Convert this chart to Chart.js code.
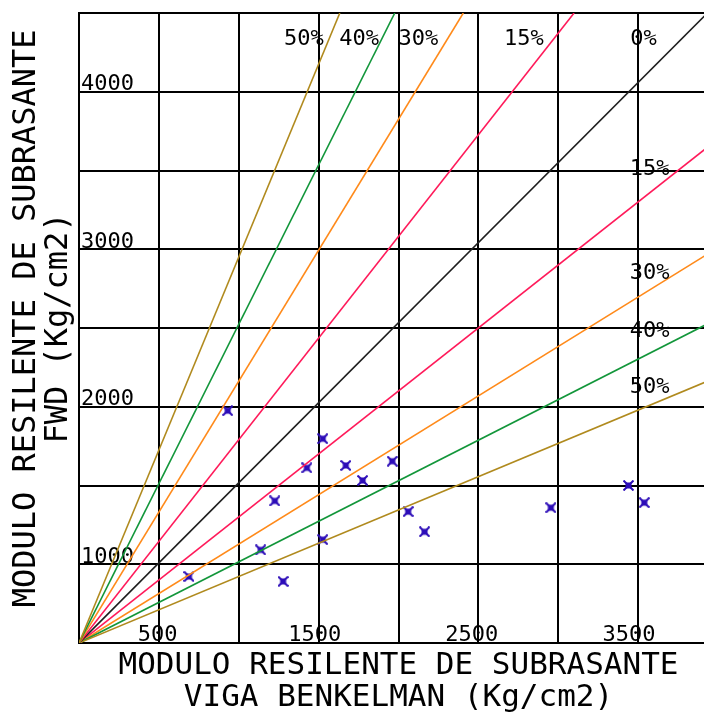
<!DOCTYPE html>
<html>
<head>
<meta charset="utf-8">
<script src="https://cdn.jsdelivr.net/npm/chart.js@4.4.1/dist/chart.umd.min.js"></script>
<style>
  html, body { margin: 0; padding: 0; background: #ffffff; overflow: hidden; }
  #wrap { width: 724px; height: 715px; }
</style>
</head>
<body>
<div id="wrap"><canvas id="c" width="724" height="715"></canvas></div>
<script>
// ---- data ----
const xTickLabels = [500, 1500, 2500, 3500];
const yTickLabels = [1000, 2000, 3000, 4000];

// measured points: Viga Benkelman (x) vs FWD (y), Kg/cm2
const vigaBenkelman = [946, 1551, 1450, 1698, 1994, 1246, 1805, 2095, 1551, 1156, 2199, 700, 1299, 3003, 3497, 3598];
const fwdValues     = [1975, 1797, 1612, 1627, 1654, 1402, 1532, 1334, 1156, 1091, 1206, 922, 891, 1359, 1500, 1391];

// reference lines, all starting at the common origin
const originX = 0, originY = 500;
const upperNames = ['50%', '40%', '30%', '15%', '0%'];
const upperEndX  = [1660, 2010, 2446, 3151, 4000];
const upperEndY  = [4500, 4500, 4500, 4500, 4500];
const lowerNames = ['50%', '40%', '30%', '15%'];
const lowerEndX  = [4067, 4067, 4067, 4067];
const lowerEndY  = [2190, 2560, 3010, 3700];

// annotation texts (data coordinates)
const topLabelText  = ['50%', '40%', '30%', '15%', '0%'];
const topLabelX     = [1305, 1656, 2033, 2705, 3508];
const topLabelY     = 4300;
const rightLabelText = ['15%', '30%', '40%', '50%'];
const rightLabelY    = [3473, 2812, 2440, 2087];
const rightLabelX    = 3505;

// ---- styles ----
const lineColors = { '50%': '#b08a1e', '40%': '#12963a', '30%': '#ff8a1a', '15%': '#ff1a5a', '0%': '#1e1e1e' };
const markerColor = '#2c0cb8';
const FONT = "'DejaVu Sans Mono', 'Liberation Mono', monospace";

function makeMarker() {
  const s = 11;
  const cv = document.createElement('canvas');
  cv.width = s; cv.height = s;
  const g = cv.getContext('2d');
  g.strokeStyle = markerColor;
  g.fillStyle = markerColor;
  g.lineWidth = 2;
  g.beginPath();
  g.moveTo(0.5, 0.5); g.lineTo(10.5, 10.5);
  g.moveTo(10.5, 0.5); g.lineTo(0.5, 10.5);
  g.stroke();
  g.fillRect(2.5, 2.5, 6, 6);
  return cv;
}

const datasets = [];
upperNames.forEach((n, i) => {
  datasets.push({
    type: 'line', label: n + ' sup',
    data: [{ x: originX, y: originY }, { x: upperEndX[i], y: upperEndY[i] }],
    borderColor: lineColors[n], borderWidth: 1.6, pointRadius: 0, fill: false, tension: 0
  });
});
lowerNames.forEach((n, i) => {
  datasets.push({
    type: 'line', label: n + ' inf',
    data: [{ x: originX, y: originY }, { x: lowerEndX[i], y: lowerEndY[i] }],
    borderColor: lineColors[n], borderWidth: 1.6, pointRadius: 0, fill: false, tension: 0
  });
});
datasets.push({
  type: 'scatter', label: 'Datos',
  data: vigaBenkelman.map((v, i) => ({ x: v, y: fwdValues[i] })),
  pointStyle: makeMarker(), pointRadius: 5, showLine: false
});

const textPlugin = {
  id: 'pctLabels',
  afterDatasetsDraw(chart) {
    const { ctx, scales: { x, y } } = chart;
    ctx.save();
    ctx.font = "22px " + FONT;
    ctx.fillStyle = '#000';
    ctx.textAlign = 'left';
    ctx.textBaseline = 'alphabetic';
    topLabelText.forEach((t, i) => ctx.fillText(t, x.getPixelForValue(topLabelX[i]), y.getPixelForValue(topLabelY)));
    rightLabelText.forEach((t, i) => ctx.fillText(t, x.getPixelForValue(rightLabelX), y.getPixelForValue(rightLabelY[i])));
    // x tick labels, drawn inside the plot just above the axis line
    ctx.textAlign = 'center';
    const base = y.getPixelForValue(y.min) - 2;
    xTickLabels.forEach(v => ctx.fillText(String(v), x.getPixelForValue(v), base));
    ctx.restore();
  }
};

new Chart(document.getElementById('c'), {
  type: 'scatter',
  data: { datasets },
  options: {
    responsive: false,
    animation: false,
    devicePixelRatio: 1,
    layout: { padding: { top: 8, right: 0, left: 0, bottom: 0 } },
    plugins: { legend: { display: false }, tooltip: { enabled: false } },
    scales: {
      x: {
        type: 'linear', min: 0, max: 4067,
        afterFit(s) { s.height = 72; },
        grid: { color: '#000', lineWidth: 2, drawTicks: false },
        border: { color: '#000', width: 2 },
        ticks: {
          stepSize: 500, includeBounds: false, display: false, autoSkip: false
        },
        title: {
          display: true, color: '#000',
          text: ['MODULO RESILENTE DE SUBRASANTE', 'VIGA BENKELMAN (Kg/cm2)'],
          font: { family: FONT, size: 31, lineHeight: '32px' },
          padding: { top: 0, bottom: 1 }
        }
      },
      y: {
        type: 'linear', min: 500, max: 4500,
        afterFit(s) { s.width = 79; },
        grid: { color: '#000', lineWidth: 2, drawTicks: false },
        border: { color: '#000', width: 2 },
        ticks: {
          stepSize: 500, mirror: true, padding: 2, labelOffset: -7,
          autoSkip: false, color: '#000',
          font: { family: FONT, size: 22, lineHeight: 1 },
          callback: v => yTickLabels.includes(v) ? String(v) : ''
        },
        title: {
          display: true, color: '#000',
          text: [' MODULO RESILENTE DE SUBRASANTE', 'FWD (Kg/cm2)'],
          font: { family: FONT, size: 32, lineHeight: '32px' },
          padding: { top: 11, bottom: 0 }
        }
      }
    }
  },
  plugins: [textPlugin]
});
</script>
</body>
</html>
